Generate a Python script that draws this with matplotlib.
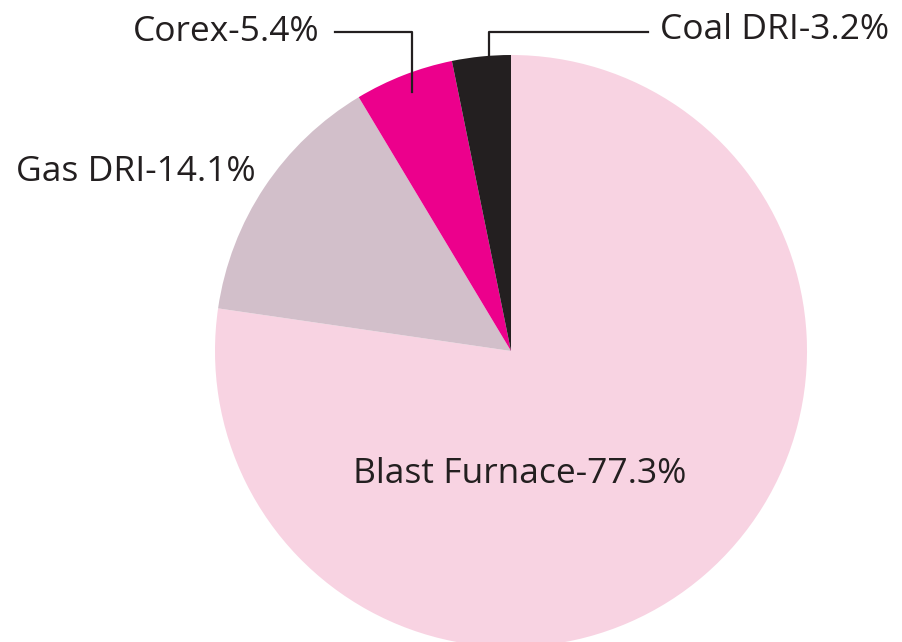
import matplotlib
matplotlib.use("Agg")
import matplotlib.pyplot as plt

# Share of world iron production by process route
routes = ["Blast Furnace", "Gas DRI", "Corex", "Coal DRI"]
shares = [77.3, 14.1, 5.4, 3.2]
colors = ["#F8D3E2", "#D2BFCA", "#EC008C", "#231F20"]
labels = [f"{r}-{s}%" for r, s in zip(routes, shares)]

W, H = 903, 642
fig = plt.figure(figsize=(W / 100, H / 100), dpi=100)
ax = fig.add_axes([0, 0, 1, 1])

cx, cy, r = 511, H - 351, 296
ax.pie(shares, colors=colors, startangle=90, counterclock=False,
       radius=r, center=(cx, cy), frame=True,
       wedgeprops=dict(linewidth=0))
ax.set_xlim(0, W)
ax.set_ylim(0, H)
ax.set_aspect("equal")
ax.axis("off")

font = dict(family=["Open Sans", "DejaVu Sans"], fontsize=25.5, color="#231F20")

# Blast Furnace label inside its wedge
ax.text(520, H - 474, labels[0], ha="center", va="center", **font)
# Gas DRI label to the left
ax.text(16, H - 172, labels[1], ha="left", va="center", **font)
# Corex label with leader line
ax.text(320, H - 32, labels[2], ha="right", va="center", **font)
ax.plot([335, 412, 412], [H - 32, H - 32, H - 92], color="#231F20", lw=1.6)
# Coal DRI label with leader line
ax.text(660, H - 30, labels[3], ha="left", va="center", **font)
ax.plot([489, 489, 648], [H - 80, H - 32, H - 32], color="#231F20", lw=1.6)

fig.savefig("out.png", dpi=100, facecolor="white")
